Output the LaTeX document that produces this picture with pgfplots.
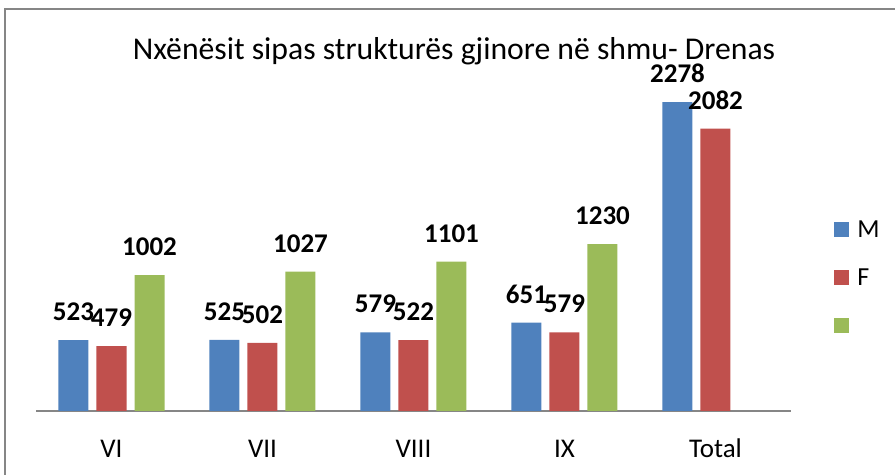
\documentclass[border=0pt]{standalone}
\usepackage{fontspec}
\setmainfont{Carlito}
\usepackage{pgfplots}
\pgfplotsset{compat=1.18}
\definecolor{cblue}{HTML}{4F81BD}
\definecolor{cred}{HTML}{C0504D}
\definecolor{cgreen}{HTML}{9BBB59}
\definecolor{cgray}{RGB}{134,134,134}
\begin{document}
\begin{tikzpicture}
\begin{axis}[
  at={(18pt,32pt)}, anchor=south west,
  scale only axis, width=377.5pt, height=169.5pt,
  ybar=4pt, bar width=15pt,
  xmin=-0.5, xmax=4.5, ymin=0, ymax=2500,
  xtick={0,1,2,3,4}, xticklabels={VI,VII,VIII,IX,Total},
  axis y line=none, axis x line*=bottom,
  x axis line style={cgray, line width=1pt, -},
  major tick length=0pt,
  xticklabel style={font=\fontsize{13.5}{16}\selectfont, anchor=north, inner sep=0pt, text height=9pt, text depth=0pt, yshift=-14pt},
  nodes near coords,
  nodes near coords style={font=\fontsize{13.5}{16}\selectfont\bfseries, anchor=south, inner sep=0pt, yshift=9.5pt},
  /pgf/number format/.cd, 1000 sep={}, assume math mode=true, /pgfplots/.cd,
  legend style={at={(1.057,0.395)}, anchor=west, draw=none, fill=none, inner sep=0pt,
    font=\fontsize{13}{15}\selectfont, row sep=16pt,
    nodes={inner sep=0pt, text height=8pt, text depth=0pt},
    /tikz/every odd column/.append style={column sep=4pt}},
  legend cell align=left,
  legend image code/.code={\fill[#1] (0pt,-3.75pt) rectangle (7.5pt,3.75pt);},
  clip=false,
]
\addplot[fill=cblue, draw=none] coordinates {(0,523) (1,525) (2,579) (3,651) (4,2278)};
\addplot[fill=cred, draw=none] coordinates {(0,479) (1,502) (2,522) (3,579) (4,2082)};
\addplot[fill=cgreen, draw=none] coordinates {(0,1002) (1,1027) (2,1101) (3,1230)};
\legend{M,F,\phantom{M}}
\end{axis}
\draw[cgray, line width=1pt] (2.5pt,0pt) -- (2.5pt,233pt) -- (447.5pt,233pt);
\node[anchor=base, font=\fontsize{15.85}{18}\selectfont, inner sep=0pt] at (227pt,207.5pt) {Nxënësit sipas strukturës gjinore në shmu- Drenas};
\pgfresetboundingbox
\path (0pt,0pt) rectangle (447.5pt,237.5pt);
\end{tikzpicture}
\end{document}
